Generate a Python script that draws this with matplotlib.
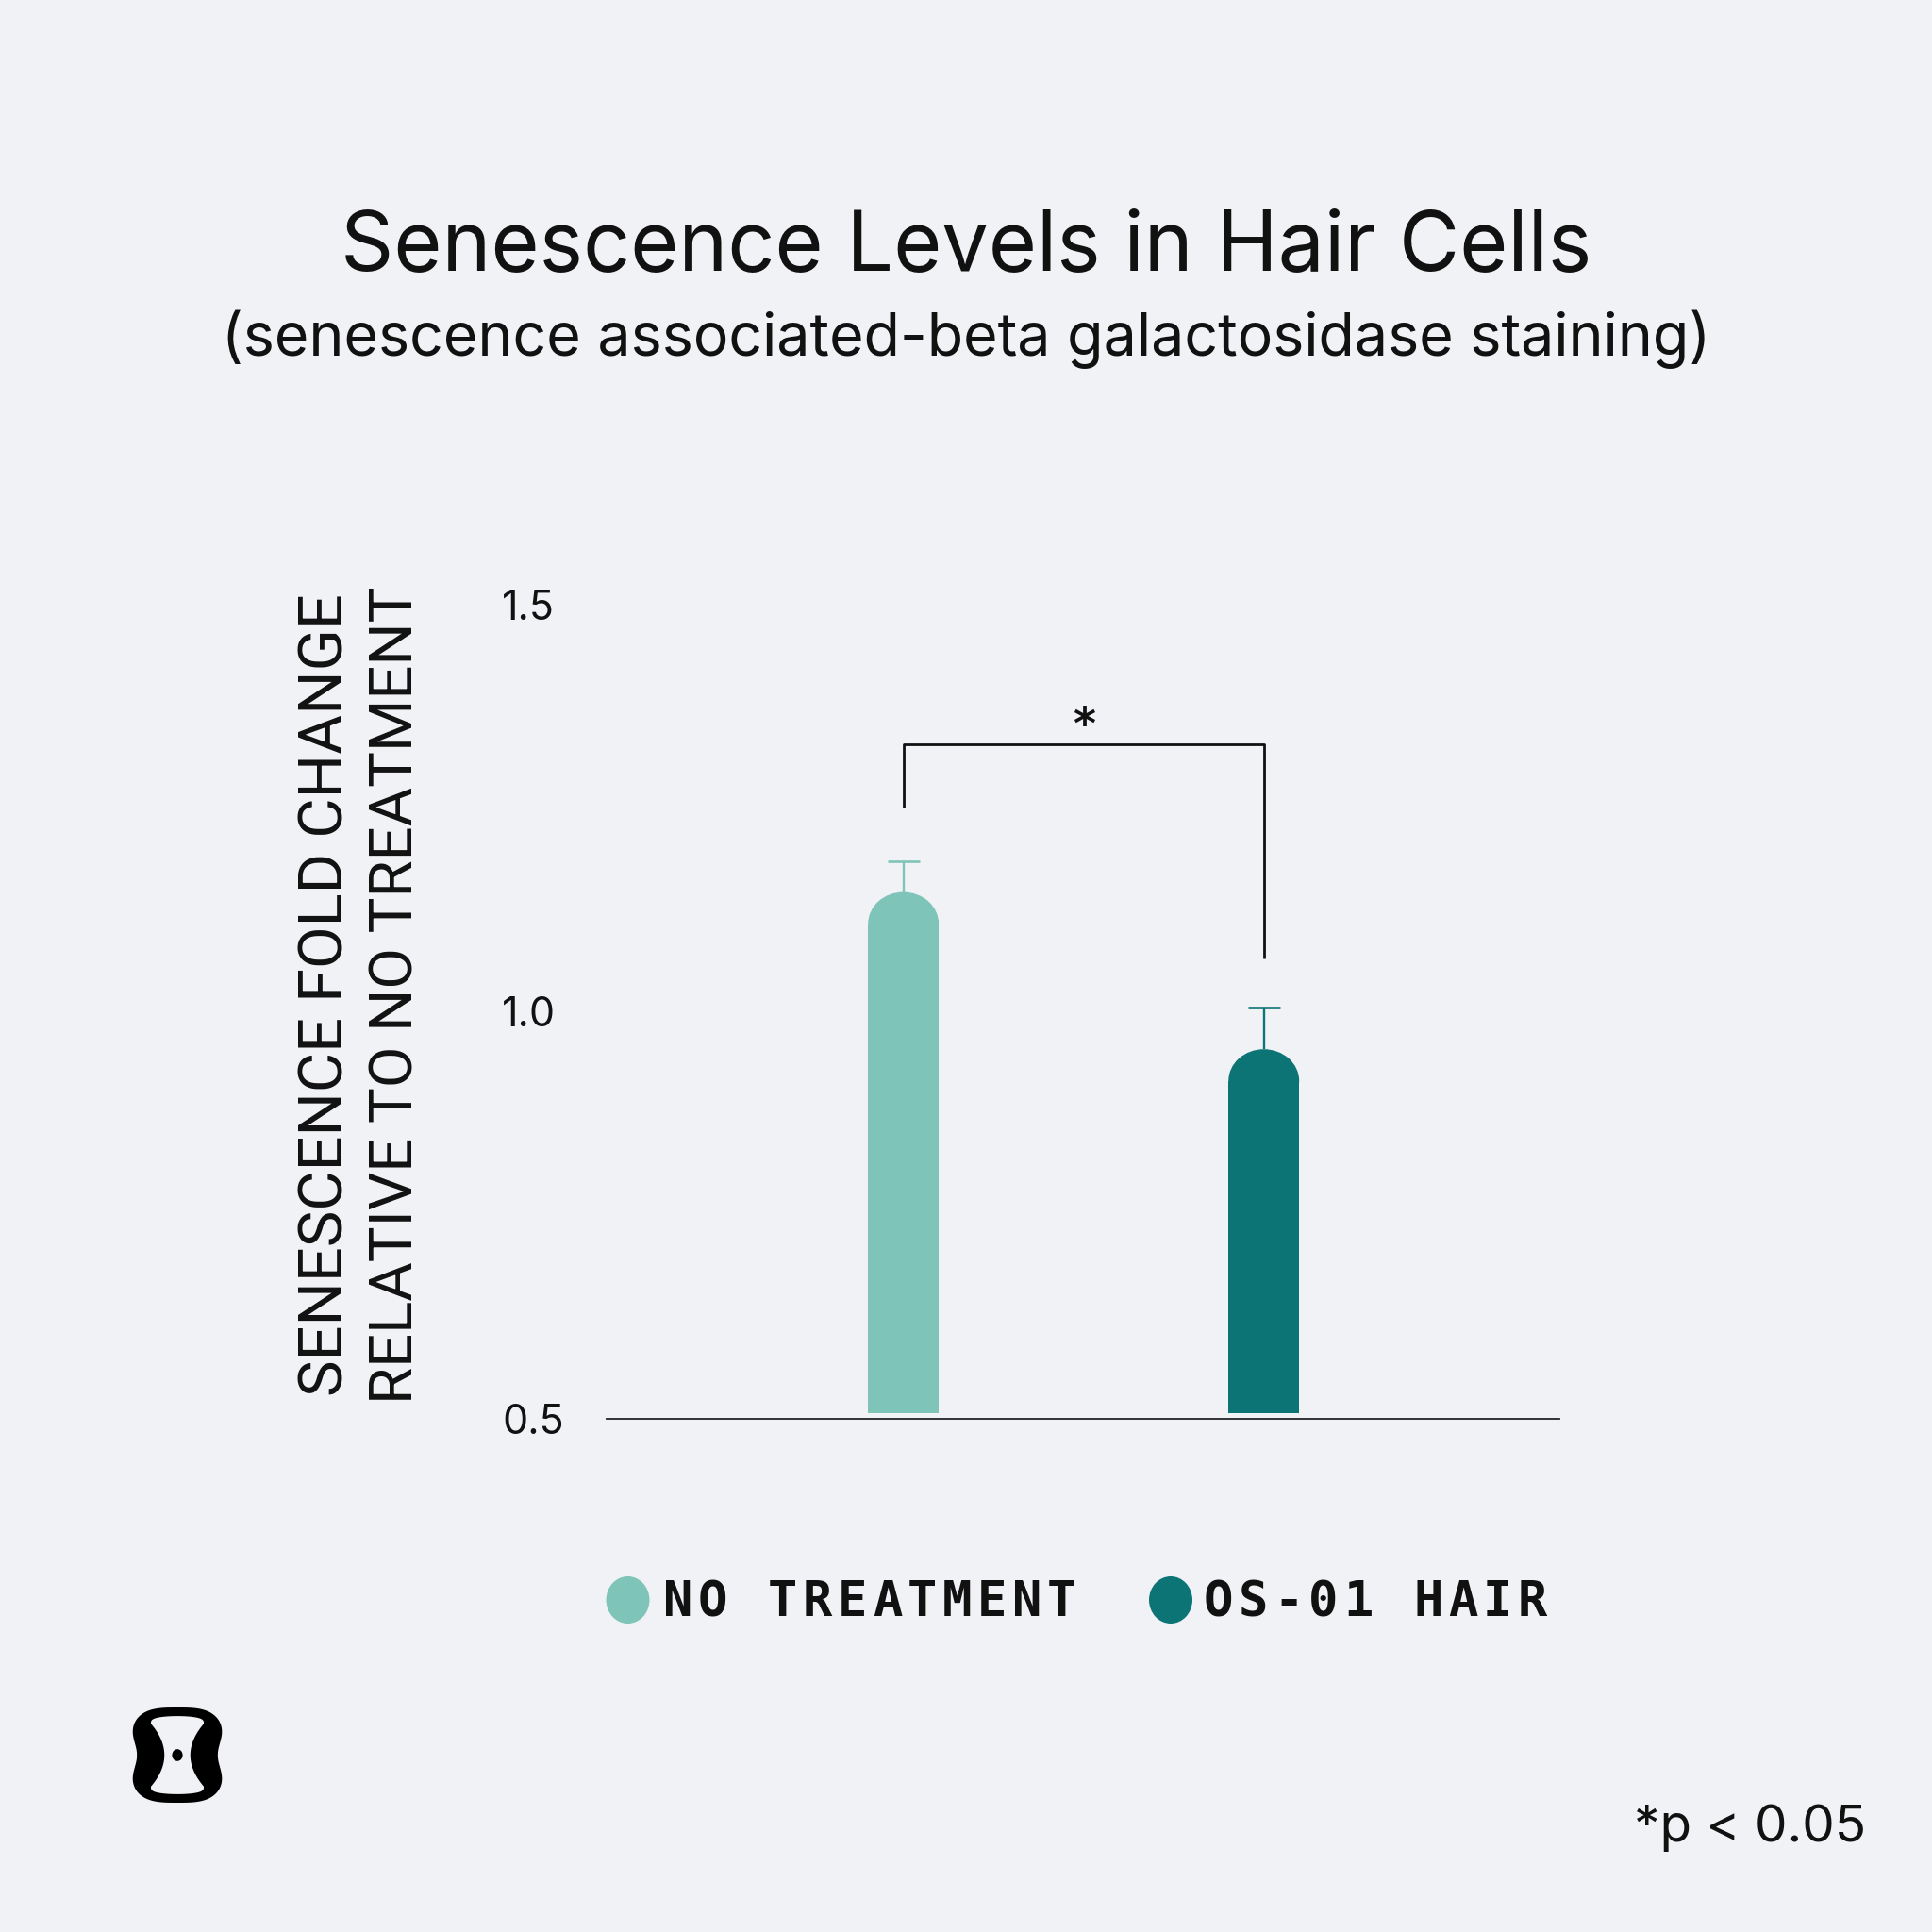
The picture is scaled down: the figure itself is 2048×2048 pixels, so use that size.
#%% import pakages
import numpy as np
import matplotlib
matplotlib.use('Agg')
import matplotlib.pyplot as plt
from matplotlib.patches import Ellipse, Polygon

#%% data
groups_ = ['NO TREATMENT', 'OS-01 HAIR']
fold_change_ = [1.147, 0.954]     # top of each bar
fold_err_ = [0.038, 0.051]        # upper error only
y_ticks_ = [0.5, 1.0, 1.5]
y_tick_labels_ = ['0.5', '1.0', '1.5']
bracket_y_ = 1.329                # significance bracket
bracket_ends_ = [1.251, 1.065]    # lower ends of left / right leg
sig_label_ = '*'
p_note_ = '*p < 0.05'
title_ = 'Senescence Levels in Hair Cells'
subtitle_ = '(senescence associated-beta galactosidase staining)'
ylabel_lines_ = ['SENESCENCE FOLD CHANGE', 'RELATIVE TO NO TREATMENT']

#%% style
bg_ = '#F0F2F5'
colors_ = ['#7FC4B8', '#0C7475']
ink_ = '#111111'
W_ = 2048.0
plt.rcParams['font.family'] = ['Inter', 'DejaVu Sans']

fig = plt.figure(figsize=(20.48, 20.48), dpi=100, facecolor=bg_)
r_ = fig.canvas.get_renderer()

def fit_len(t_, target_px, vertical=False):
    # scale the font so the text spans target_px
    bb_ = t_.get_window_extent(r_)
    cur_ = bb_.height if vertical else bb_.width
    t_.set_fontsize(t_.get_fontsize() * target_px / cur_)

#%% main axes
ax = fig.add_axes([643 / W_, 1 - 1504 / W_, 1010 / W_, 863 / W_])
ax.set_facecolor(bg_)
x_ = np.arange(len(groups_))
bar_w_ = 0.196
dome_h_ = 0.0387
bar_bottom_ = 0.507
vals_ = np.array(fold_change_)
tops_ = vals_ + np.array(fold_err_)

ax.bar(x_, vals_ - dome_h_ - bar_bottom_, bottom=bar_bottom_, width=bar_w_,
       color=colors_, linewidth=0)
for xi_, v_, c_ in zip(x_, vals_, colors_):
    ax.add_patch(Ellipse((xi_, v_ - dome_h_), bar_w_, 2 * dome_h_, color=c_, lw=0))

# upper error bars
ax.vlines(x_, vals_, tops_, colors=colors_, lw=1.7)
ax.hlines(tops_, x_ - 0.0445, x_ + 0.0445, colors=colors_, lw=1.9)

# significance bracket
ax.plot([x_[0], x_[0], x_[1], x_[1]],
        [bracket_ends_[0], bracket_y_, bracket_y_, bracket_ends_[1]],
        color=ink_, lw=2.0, solid_capstyle='butt')
ax.text((x_[0] + x_[1]) / 2, bracket_y_ + 0.006, sig_label_, ha='center', va='baseline',
        fontsize=33, fontweight='heavy', family='DejaVu Sans', color=ink_)

ax.set_xlim(-0.8236, 1.820)
ax.set_ylim(0.5, 1.5)
ax.set_xticks([])
ax.set_yticks(y_ticks_, y_tick_labels_)
ax.tick_params(axis='y', length=0, pad=(643 - 532) * 0.72, labelsize=31, colors=ink_)
for lab_ in ax.get_yticklabels():
    lab_.set_ha('left')
for s_ in ['top', 'right', 'left']:
    ax.spines[s_].set_visible(False)
ax.spines['bottom'].set_color('#222222')
ax.spines['bottom'].set_linewidth(1.3)

#%% titles
t1_ = fig.text(0.5, 1 - 286 / W_, title_, ha='center', va='baseline', fontsize=66, color=ink_)
fit_len(t1_, 1325)
t2_ = fig.text(0.5, 1 - 377 / W_, subtitle_, ha='center', va='baseline', fontsize=44, color=ink_)
fit_len(t2_, 1578)

#%% y label (two lines)
for xc_, line_, ln_ in zip([346.0, 420.0], ylabel_lines_, [850, 865]):
    tl_ = fig.text(xc_ / W_, 1 - 1055 / W_, line_, rotation=90, ha='center', va='center',
                   fontsize=46, family='Roboto', color=ink_)
    fit_len(tl_, ln_, vertical=True)

#%% legend
pitch_ = 37.0
for lab_, c_, cx_, start_ in zip(groups_, colors_, [665.5, 1241.0], [703.0, 1276.0]):
    fig.add_artist(Ellipse((cx_ / W_, 1 - 1696 / W_), 46 / W_, 50 / W_,
                           transform=fig.transFigure, color=c_, lw=0))
    for i_, ch_ in enumerate(lab_):
        fig.text((start_ + 15.7 + pitch_ * i_) / W_, 1 - 1713 / W_, ch_, ha='center',
                 va='baseline', fontsize=37.5, fontweight='bold',
                 family='DejaVu Sans Mono', color=ink_)

#%% footnote
fig.text(1978 / W_, 1 - 1952 / W_, p_note_, ha='right', va='baseline', fontsize=39.5, color=ink_)

#%% logo
lax = fig.add_axes([136 / W_, 1 - 1912 / W_, 104 / W_, 103 / W_])
lax.set_xlim(-1.02, 1.02)
lax.set_ylim(-1.02, 1.02)
lax.axis('off')
t_ = np.linspace(0, 2 * np.pi, 400)
c_, s_ = np.cos(t_), np.sin(t_)
n_ = 3.2
oy_ = np.sign(s_) * np.abs(s_) ** (2 / n_)
ox_ = np.sign(c_) * np.abs(c_) ** (2 / n_) * (1 - 0.16 * np.exp(-(oy_ / 0.42) ** 2))
lax.add_patch(Polygon(np.c_[ox_, oy_], closed=True, color='black', lw=0))
ys_ = np.linspace(-0.66, 0.66, 80)
ws_ = 0.27 + 0.28 * (ys_ / 0.66) ** 2
th_ = np.linspace(0, np.pi, 60)
cap_ = 0.16 * np.abs(np.sin(th_)) ** (2 / 3.5)
inner_ = np.concatenate([
    np.c_[ws_, ys_],
    np.c_[0.55 * np.cos(th_), 0.66 + cap_],
    np.c_[-ws_[::-1], ys_[::-1]],
    np.c_[-0.55 * np.cos(th_), -0.66 - cap_],
])
lax.add_patch(Polygon(inner_, closed=True, color=bg_, lw=0))
lax.add_patch(Ellipse((0, 0), 0.22, 0.25, color='black', lw=0))

fig.savefig('out.png', dpi=100, facecolor=bg_)
